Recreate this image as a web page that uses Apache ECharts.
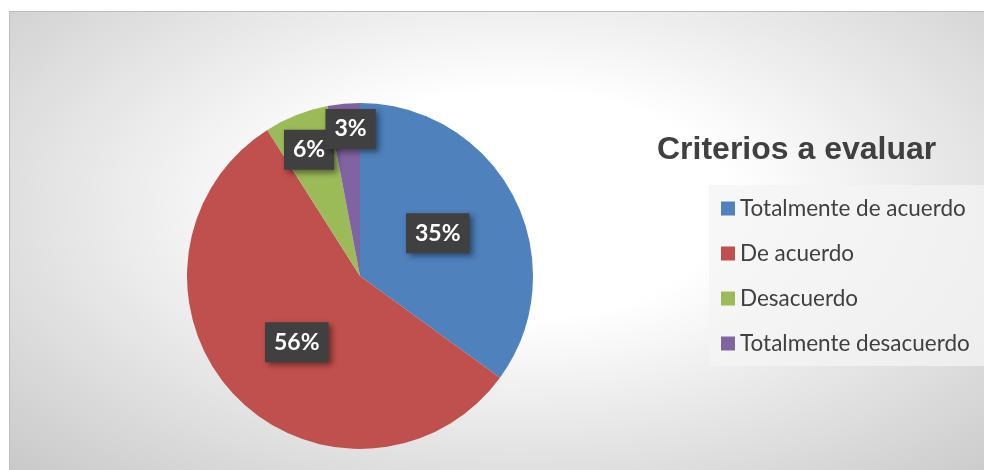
<!DOCTYPE html>
<html>
<head>
<meta charset="utf-8">
<script src="https://cdn.jsdelivr.net/npm/echarts@6/dist/echarts.min.js"></script>
<style>
  html, body { margin: 0; padding: 0; background: #fff; }
  #chart {
    position: absolute; left: 9px; top: 11px; width: 975px; height: 459px;
    border-top: 1px solid #bdbdbd; border-left: 1px solid #bdbdbd;
    box-sizing: border-box;
    background: radial-gradient(ellipse farthest-corner at 52% 42%, #ffffff 0%, #ffffff 30%, #c9c9c9 100%);
  }
</style>
</head>
<body>
<div id="chart"></div>
<script>
// datos del grafico
const categorias = ['Totalmente de acuerdo', 'De acuerdo', 'Desacuerdo', 'Totalmente desacuerdo'];
const valores = [35, 56, 6, 3];
const colores = ['#4f81bd', '#c0504d', '#9bbb59', '#8064a2'];
// desplazamiento de las etiquetas pequenas (como en Excel)
const labelShift = [[-2, -2], [2, 5], [-18, -43], [-1, -58]];

const chart = echarts.init(document.getElementById('chart'));

const option = {
  backgroundColor: 'transparent',
  color: colores,
  title: {
    text: 'Criterios a evaluar',
    left: 642,
    top: 117,
    textStyle: { fontFamily: 'Liberation Sans', fontSize: 32, fontWeight: 'bold', color: '#404040' }
  },
  legend: {
    orient: 'vertical',
    left: 699,
    top: 173,
    padding: [12, 16, 11, 12],
    backgroundColor: 'rgba(244,244,244,0.75)',
    icon: 'rect',
    itemWidth: 14,
    itemHeight: 14,
    itemGap: 22,
    data: categorias,
    textStyle: { fontFamily: 'Lato', fontSize: 22.5, lineHeight: 22, color: '#404040' }
  },
  series: [{
    type: 'pie',
    center: [350, 264],
    radius: 173,
    startAngle: 90,
    clockwise: true,
    silent: true,
    data: categorias.map((c, i) => ({ name: c, value: valores[i] })),
    label: {
      show: true,
      position: 'inside',
      formatter: p => p.value + '%',
      fontFamily: 'Lato',
      fontSize: 23,
      fontWeight: 'bold',
      color: '#ffffff',
      backgroundColor: '#404040',
      padding: [9, 9, 8, 9],
      shadowColor: 'rgba(0,0,0,0.45)',
      shadowBlur: 6,
      shadowOffsetX: 3,
      shadowOffsetY: 3
    },
    labelLine: { show: false },
    labelLayout: p => ({ dx: labelShift[p.dataIndex][0], dy: labelShift[p.dataIndex][1] })
  }]
};

chart.setOption(option);
</script>
</body>
</html>
